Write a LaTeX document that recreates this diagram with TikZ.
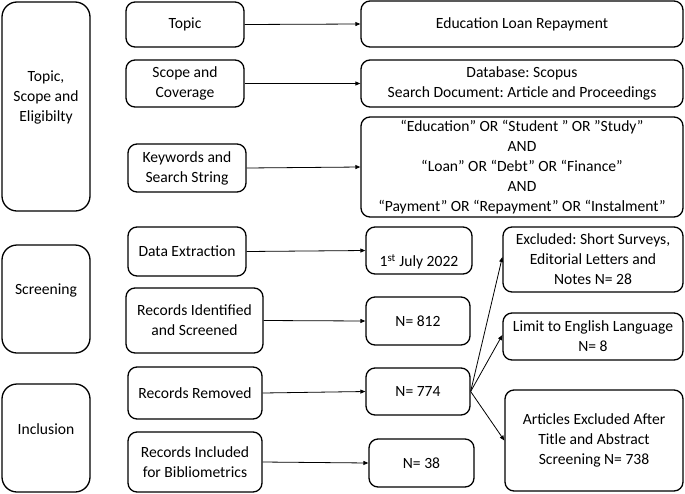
\documentclass[tikz,border=0pt]{standalone}
\usepackage{fontspec}
\setmainfont{Carlito}
\usetikzlibrary{arrows.meta}
\frenchspacing
\begin{document}
\begin{tikzpicture}[x=1pt,y=-1pt,
  every node/.style={font=\fontsize{15.6}{20}\selectfont, align=center, inner sep=0pt},
  bx/.style={draw, line width=1.3pt, rounded corners=9pt},
  lbx/.style={draw, line width=1.3pt, rounded corners=15pt},
  conn/.style={line width=0.8pt, -{Triangle[length=5pt,width=4pt]}}]
\useasboundingbox (0,0) rectangle (685,493);
% left phase boxes
\node[lbx, minimum width=88pt, minimum height=209pt] (p1) at (46,106.5) {};
\node (p1t) at (46,97.5) {Topic,\\Scope and\\Eligibilty};
\node[lbx, minimum width=88pt, minimum height=108pt] (p2) at (46,299) {};
\node (p2t) at (46,290) {Screening};
\node[lbx, minimum width=88pt, minimum height=108pt] (p3) at (46,438) {};
\node (p3t) at (46,429) {Inclusion};
% middle boxes
\node[bx, minimum width=118pt, minimum height=45pt] (m1) at (185,24.5) {Topic};
\node[bx, minimum width=118pt, minimum height=47pt] (m2) at (185,83.5) {Scope and\\Coverage};
\node[bx, minimum width=118pt, minimum height=48pt] (m3) at (187,168) {Keywords and\\Search String};
\node[bx, minimum width=118pt, minimum height=49pt] (m4) at (187,251.5) {Data Extraction};
\node[bx, minimum width=137pt, minimum height=65pt] (m5) at (194.5,320.5) {Records Identified\\and Screened};
\node[bx, minimum width=134pt, minimum height=52pt] (m6) at (195,393) {Records Removed};
\node[bx, minimum width=134pt, minimum height=60pt] (m7) at (195,462) {Records Included\\for Bibliometrics};
% right boxes
\node[bx, minimum width=322pt, minimum height=46pt] (r1) at (522,24) {Education Loan Repayment};
\node[bx, minimum width=322pt, minimum height=47pt] (r2) at (522,83.5) {Database: Scopus\\Search Document: Article and Proceedings};
\node[bx, minimum width=322pt, minimum height=100pt] (r3) at (522,167) {“Education” OR “Student ” OR ”Study”\\AND\\“Loan” OR “Debt” OR “Finance”\\AND\\“Payment” OR “Repayment” OR “Instalment”};
\node[bx, minimum width=106pt, minimum height=47pt] (r4) at (419,250.5) {};
\node (r4t) at (419,262) {1\textsuperscript{st} July 2022};
\node[bx, minimum width=180pt, minimum height=65pt] (r5) at (593,259.5) {Excluded: Short Surveys,\\Editorial Letters and\\Notes N= 28};
\node[bx, minimum width=104pt, minimum height=48pt] (r6) at (418,321) {N= 812};
\node[bx, minimum width=180pt, minimum height=47pt] (r7) at (593,336.5) {Limit to English Language\\N= 8};
\node[bx, minimum width=104pt, minimum height=47pt] (r8) at (418,391.5) {N= 774};
\node[bx, minimum width=178pt, minimum height=101pt] (r9) at (594,440.5) {Articles Excluded After\\Title and Abstract\\Screening N= 738};
\node[bx, minimum width=105pt, minimum height=48pt] (r10) at (421.5,463) {N= 38};
% connectors
\draw[conn] (m1.east) -- (r1.west);
\draw[conn] (m2.east) -- (r2.west);
\draw[conn] (m3.east) -- (r3.west);
\draw[conn] (m4.east) -- (r4.west);
\draw[conn] (m5.east) -- (r6.west);
\draw[conn] (m6.east) -- (r8.west);
\draw[conn] (m7.east) -- (r10.west);
\draw[conn] (r8.east) -- ([yshift=2.5pt]r5.west);
\draw[conn] (r8.east) -- ([yshift=1.5pt]r7.west);
\draw[conn] (r8.east) -- (r9.west);
\end{tikzpicture}
\end{document}
